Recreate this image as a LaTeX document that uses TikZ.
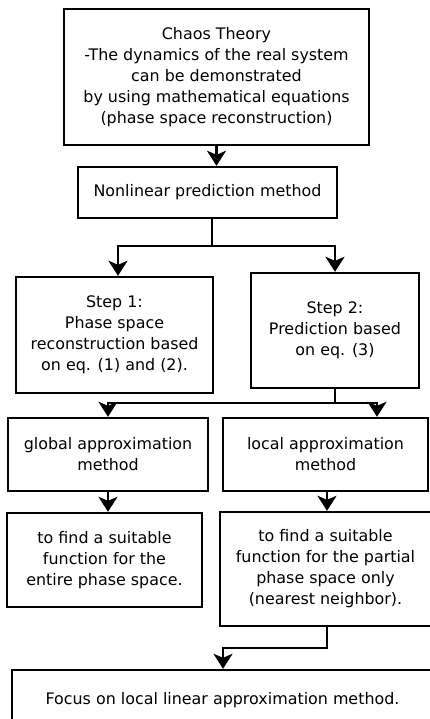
\documentclass[tikz,border=0pt]{standalone}
\usepackage{fontspec}
\setmainfont{DejaVu Sans}
\usetikzlibrary{arrows.meta, positioning, calc}

\begin{document}
\begin{tikzpicture}[
    x=1pt, y=-1pt,
    box/.style={rectangle, draw, line width=2.4pt, align=center, inner sep=2pt, font=\fontsize{15.9}{21}\selectfont},
    arrow/.style={line width=2.4pt,-{Stealth[length=15pt,width=19pt,inset=4pt]}},
    line/.style={line width=2.4pt}
]
\useasboundingbox (0,0) rectangle (430,719);

% Nodes
\node (chaos) [box, minimum width=305pt, minimum height=136pt] at (216.5,77) {Chaos Theory\\-The dynamics of the real system\\can be demonstrated\\by using mathematical equations\\(phase space reconstruction)};
\node (nonlin) [box, minimum width=259pt, minimum height=51pt] at (207.5,192.5) {Nonlinear prediction method};
\node (step1) [box, minimum width=197pt, minimum height=116pt] at (114.5,335) {Step 1:\\Phase space\\reconstruction based\\on eq. (1) and (2).};
\node (step2) [box, minimum width=168pt, minimum height=115pt] at (335,330.5) {Step 2:\\Prediction based\\on eq. (3)};
\node (global) [box, minimum width=200pt, minimum height=73pt] at (108,454.5) {global approximation\\method};
\node (local) [box, minimum width=205pt, minimum height=73pt] at (325.5,454.5) {local approximation\\method};
\node (globfn) [box, minimum width=195pt, minimum height=94pt] at (104.5,560) {to find a suitable\\function for the\\entire phase space.};
\node (locfn) [box, minimum width=211pt, minimum height=114pt] at (325.5,569) {to find a suitable\\function for the partial\\phase space only\\(nearest neighbor).};
\node (focus) [box, minimum width=421pt, minimum height=60pt] at (222.5,700) {Focus on local linear approximation method.};

% Branch points
\coordinate (split1) at (212,246);
\coordinate (split2) at (335,403);
\coordinate (bend) at (223,648);

% Arrows
\draw [arrow] (chaos.south) -- (chaos.south |- nonlin.north);
\draw [line] (split1 |- nonlin.south) -- (split1);
\draw [arrow] (split1) -| ([xshift=3.5pt]step1.north);
\draw [arrow] (split1) -| (step2.north);
\draw [line] (step2.south) -- (split2);
\draw [arrow] (split2) -| (global.north);
\draw [arrow] (split2) -| ([xshift=51.5pt]local.north);
\draw [arrow] (global.south) -- (global.south |- globfn.north);
\draw [arrow] ([xshift=1.5pt]local.south) -- ([xshift=1.5pt]locfn.north);
\draw [arrow] ([xshift=1.5pt]locfn.south) |- (bend) -- (bend |- focus.north);

\end{tikzpicture}
\end{document}
